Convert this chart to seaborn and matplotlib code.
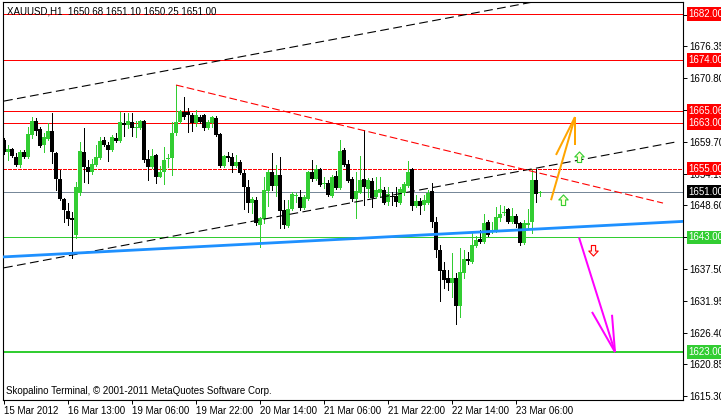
import matplotlib
matplotlib.use('Agg')
import matplotlib.pyplot as plt
import matplotlib.transforms as mtransforms
from matplotlib.path import Path
import numpy as np
import pandas as pd
import seaborn as sns

# ---- data (XAUUSD H1) ----
symbol = 'XAUUSD,H1'
last_ohlc = [1650.68, 1651.10, 1650.25, 1651.00]

opens = [1660.0, 1657.9, 1658.4, 1657.0, 1655.6, 1657.9, 1657.0, 1660.9, 1663.3, 1661.9,
         1659.1, 1660.2, 1661.6, 1657.7, 1653.2, 1649.7, 1647.6, 1646.4, 1643.4, 1650.8,
         1657.9, 1655.3, 1654.4, 1655.6, 1656.9, 1660.0, 1659.1, 1658.3, 1660.3, 1659.8,
         1663.0, 1662.6, 1663.1, 1662.1, 1662.1, 1663.3, 1656.7, 1655.3, 1657.4, 1653.6,
         1654.4, 1656.7, 1656.9, 1661.2, 1663.1, 1664.9, 1664.9, 1664.4, 1663.0, 1664.0,
         1664.4, 1662.1, 1663.0, 1663.8, 1661.1, 1655.5, 1657.2, 1657.0, 1655.5, 1656.2,
         1654.3, 1651.8, 1649.0, 1649.5, 1645.2, 1646.2, 1651.1, 1654.4, 1652.0, 1653.9,
         1647.8, 1645.0, 1648.0, 1650.2, 1650.1, 1648.1, 1649.7, 1654.4, 1653.2, 1654.9,
         1652.3, 1652.5, 1650.2, 1653.7, 1651.6, 1658.3, 1655.8, 1653.2, 1649.7, 1650.8,
         1653.2, 1651.4, 1652.9, 1650.1, 1650.8, 1651.3, 1649.2, 1650.2, 1650.2, 1649.0,
         1650.8, 1652.0, 1654.9, 1648.5, 1649.4, 1648.7, 1649.0, 1651.1, 1645.7, 1640.8,
         1637.3, 1635.9, 1635.1, 1635.9, 1631.0, 1636.8, 1639.2, 1638.7, 1641.5, 1642.7,
         1642.2, 1645.7, 1643.9, 1644.1, 1646.4, 1647.3, 1647.9, 1645.7, 1646.7, 1645.5,
         1642.0, 1645.2, 1645.7, 1653.0, 1650.68]
highs = [1660.4, 1659.1, 1658.6, 1657.7, 1658.3, 1658.3, 1662.3, 1664.0, 1663.8, 1662.3,
         1661.2, 1663.0, 1664.7, 1657.9, 1654.8, 1649.9, 1649.0, 1647.4, 1652.7, 1659.7,
         1662.1, 1656.5, 1656.7, 1659.1, 1660.5, 1660.5, 1659.7, 1660.9, 1661.2, 1664.9,
         1664.7, 1664.7, 1664.7, 1663.3, 1663.5, 1663.5, 1658.3, 1658.4, 1657.6, 1655.5,
         1658.8, 1657.6, 1663.1, 1669.6, 1665.2, 1667.5, 1665.6, 1664.7, 1665.2, 1664.4,
         1664.5, 1663.5, 1664.2, 1664.2, 1661.2, 1657.4, 1657.9, 1657.7, 1657.4, 1656.5,
         1654.8, 1653.0, 1650.1, 1650.1, 1646.6, 1653.6, 1654.8, 1657.7, 1655.6, 1657.0,
         1649.5, 1649.5, 1650.9, 1650.8, 1651.3, 1650.4, 1654.6, 1656.5, 1655.6, 1655.1,
         1653.6, 1653.0, 1653.9, 1654.6, 1660.0, 1658.6, 1656.5, 1653.6, 1654.4, 1657.2,
         1661.8, 1653.4, 1653.4, 1653.6, 1653.6, 1651.8, 1651.8, 1650.9, 1651.8, 1651.8,
         1652.7, 1656.3, 1655.1, 1650.4, 1649.9, 1650.4, 1651.3, 1652.5, 1646.6, 1641.7,
         1638.7, 1637.3, 1640.3, 1636.8, 1641.2, 1640.8, 1640.5, 1643.8, 1643.3, 1644.3,
         1647.1, 1646.0, 1645.7, 1648.3, 1648.7, 1648.5, 1648.1, 1648.1, 1647.1, 1645.7,
         1646.0, 1647.9, 1654.9, 1654.9, 1651.10]
lows = [1657.5, 1656.5, 1657.0, 1655.5, 1655.3, 1656.9, 1656.9, 1660.4, 1660.9, 1658.8,
        1657.9, 1660.0, 1656.0, 1651.3, 1649.5, 1645.7, 1645.2, 1639.4, 1642.9, 1650.4,
        1652.7, 1652.5, 1654.1, 1655.5, 1656.7, 1659.0, 1656.3, 1658.1, 1659.7, 1659.7,
        1660.7, 1662.1, 1660.7, 1660.5, 1661.9, 1656.2, 1653.0, 1655.1, 1652.5, 1653.5,
        1652.3, 1655.3, 1653.9, 1660.9, 1662.9, 1663.6, 1661.4, 1661.6, 1662.5, 1663.0,
        1661.7, 1661.9, 1662.3, 1660.7, 1655.3, 1655.3, 1656.3, 1654.4, 1655.3, 1654.1,
        1648.0, 1647.4, 1647.3, 1645.2, 1641.3, 1645.5, 1648.5, 1651.3, 1650.2, 1644.7,
        1644.7, 1644.8, 1647.8, 1649.2, 1647.8, 1648.0, 1649.5, 1652.9, 1653.0, 1652.0,
        1651.6, 1650.2, 1650.1, 1651.5, 1651.5, 1655.5, 1652.7, 1649.4, 1646.4, 1650.8,
        1648.7, 1650.0, 1648.3, 1649.9, 1650.1, 1648.8, 1648.7, 1648.7, 1648.5, 1648.8,
        1650.4, 1651.8, 1647.8, 1648.3, 1647.1, 1647.8, 1648.8, 1644.8, 1639.6, 1631.9,
        1634.2, 1633.8, 1632.6, 1627.9, 1629.1, 1635.9, 1638.4, 1638.5, 1641.3, 1642.0,
        1642.0, 1643.3, 1643.8, 1643.9, 1645.9, 1646.9, 1645.5, 1645.5, 1644.8, 1641.7,
        1641.9, 1644.5, 1643.8, 1649.2, 1650.25]
closes = [1657.9, 1658.4, 1657.2, 1655.6, 1657.9, 1657.0, 1661.1, 1663.3, 1661.6, 1659.0,
          1660.5, 1661.6, 1657.9, 1653.2, 1649.7, 1647.8, 1646.2, 1646.0, 1651.8, 1658.1,
          1655.3, 1654.4, 1655.8, 1657.0, 1659.8, 1659.1, 1658.3, 1660.5, 1659.8, 1663.1,
          1662.6, 1663.3, 1662.1, 1662.3, 1663.3, 1656.5, 1655.3, 1657.2, 1653.6, 1654.4,
          1656.5, 1656.9, 1661.2, 1663.1, 1665.1, 1664.0, 1664.4, 1663.0, 1664.4, 1663.1,
          1662.1, 1663.1, 1664.0, 1660.9, 1655.5, 1657.2, 1656.9, 1655.5, 1656.2, 1654.3,
          1651.8, 1649.0, 1649.7, 1645.5, 1646.4, 1651.3, 1654.4, 1652.0, 1653.9, 1647.6,
          1645.2, 1648.0, 1650.6, 1650.4, 1648.1, 1650.1, 1654.4, 1653.2, 1654.9, 1652.2,
          1652.5, 1650.4, 1653.6, 1651.6, 1658.1, 1655.6, 1652.9, 1649.7, 1651.1, 1653.0,
          1651.8, 1653.0, 1649.9, 1651.3, 1651.5, 1649.0, 1650.6, 1650.1, 1649.2, 1651.5,
          1652.3, 1654.4, 1648.5, 1649.4, 1648.5, 1649.5, 1650.8, 1645.7, 1640.8, 1637.1,
          1635.6, 1635.1, 1635.9, 1631.0, 1637.0, 1639.2, 1638.9, 1641.7, 1642.6, 1642.2,
          1645.5, 1643.4, 1644.3, 1646.6, 1647.1, 1647.4, 1645.7, 1646.7, 1645.4, 1642.0,
          1645.5, 1645.5, 1653.0, 1650.6, 1651.00]

time_labels = ['15 Mar 2012', '16 Mar 13:00', '19 Mar 06:00', '19 Mar 22:00', '20 Mar 14:00',
               '21 Mar 06:00', '21 Mar 22:00', '22 Mar 14:00', '23 Mar 06:00']
label_bars = [0, 16, 32, 48, 64, 80, 96, 112, 128]
price_ticks = [1615.30, 1620.85, 1626.40, 1631.95, 1637.50, 1643.05, 1648.60, 1654.15,
               1659.70, 1665.25, 1670.80, 1676.35, 1681.90]

red_levels = [1682.00, 1674.00, 1665.06, 1663.00]
dash_level = 1655.00
bid_level = 1651.00
green_levels = [1643.00, 1623.00]

# trend lines: (bar, price) end points
channel_top_bars, channel_top_prices = [0, 140], [1666.8, 1685.1]
channel_low_bars, channel_low_prices = [0, 168.25], [1637.7, 1659.7]
support_bars, support_prices = [-0.25, 169.75], [1639.6, 1645.8]
resist_bars, resist_prices = [43, 164.75], [1669.6, 1649.0]

# drawn arrows (shaft + two barbs), tip last
orange_shaft = ([136.75, 142.75], [1649.5, 1664.0])
orange_barbs = [([138.0, 142.75], [1657.4, 1664.0]), ([142.75, 142.75], [1659.1, 1664.0])]
magenta_shaft = ([143.75, 152.75], [1643.0, 1623.0])
magenta_barbs = [([147.0, 152.75], [1630.0, 1623.0]), ([152.0, 152.75], [1629.5, 1623.0])]
up_signal_bars, up_signal_prices = [139.75, 143.75], [1649.5, 1657.0]
down_signal_bars, down_signal_prices = [147.25], [1640.8]

# ---- style ----
sns.set_style('white')
plt.rcParams['font.family'] = ['Liberation Sans', 'DejaVu Sans']
bull = '#32CD32'
fs = 7
px = 0.72  # one pixel in points at 100 dpi

fig = plt.figure(figsize=(7.21, 4.17), dpi=100)
ax = fig.add_axes([3 / 721, 17 / 417, 680 / 721, 398 / 417])

df = pd.DataFrame({'bar': np.arange(len(opens)), 'open': opens, 'high': highs,
                   'low': lows, 'close': closes})
cols = np.where(df['close'] >= df['open'], bull, 'black')

# horizontal levels (crisp, terminal-like)
hl = dict(zorder=2, antialiased=False)
for lv in red_levels:
    ax.axhline(lv, color='#FF0000', lw=px, **hl)
ax.axhline(dash_level, color='#FF0000', lw=px, ls=(0, (4, 2)), **hl)
ax.axhline(bid_level, color='#778899', lw=px, **hl)
ax.axhline(green_levels[0], color=bull, lw=px, **hl)
ax.axhline(green_levels[1], color=bull, lw=2 * px, **hl)

# candles
ax.vlines(df['bar'], df['low'], df['high'], colors=cols, lw=px, zorder=3,
          antialiased=False)
body = (df['close'] - df['open']).abs().clip(lower=0.15)
ax.bar(df['bar'], body, bottom=np.minimum(df['open'], df['close']), width=0.8,
       color=cols, lw=0, zorder=4, antialiased=False)

# trend lines
sns.lineplot(x=channel_top_bars, y=channel_top_prices, color='black', lw=1.1 * px,
             ls=(0, (8, 4)), ax=ax, zorder=5)
sns.lineplot(x=channel_low_bars, y=channel_low_prices, color='black', lw=1.1 * px,
             ls=(0, (8, 4)), ax=ax, zorder=5)
sns.lineplot(x=resist_bars, y=resist_prices, color='#FF0000', lw=1.1 * px,
             ls=(0, (7, 3)), ax=ax, zorder=5)
sns.lineplot(x=support_bars, y=support_prices, color='#1E90FF', lw=2.8 * px, ax=ax, zorder=5)

# drawn arrows
for (xs, ys) in [orange_shaft] + orange_barbs:
    ax.plot(xs, ys, color='#FFA500', lw=2 * px, zorder=6, solid_capstyle='butt')
for (xs, ys) in [magenta_shaft] + magenta_barbs:
    ax.plot(xs, ys, color='#FF00FF', lw=2 * px, zorder=6, solid_capstyle='butt')

arrow_verts = [(0, 1), (0.85, 0.1), (0.38, 0.1), (0.38, -0.9), (-0.38, -0.9),
               (-0.38, 0.1), (-0.85, 0.1), (0, 1)]
codes = [Path.MOVETO] + [Path.LINETO] * 6 + [Path.CLOSEPOLY]
up_marker = Path(arrow_verts, codes)
down_marker = Path([(x, -y) for x, y in arrow_verts], codes)
ax.plot(up_signal_bars, up_signal_prices, ls='none', marker=up_marker, ms=8,
        mfc='#FFFFD8', mec=bull, mew=0.8, zorder=7)
ax.plot(down_signal_bars, down_signal_prices, ls='none', marker=down_marker, ms=8,
        mfc='#FFF0F0', mec='#FF0000', mew=0.8, zorder=7)

# axes
ax.set_xlim(-0.25, 169.75)
ax.set_ylim(1614.63, 1684.09)
for s in ax.spines.values():
    s.set_color('black')
    s.set_linewidth(0.8)
ax.yaxis.tick_right()
ax.set_yticks(price_ticks)
ax.set_yticklabels([f'{p:.2f}' for p in price_ticks])
ax.set_xticks(label_bars)
ax.set_xticklabels(time_labels)
for lab in ax.get_xticklabels():
    lab.set_ha('left')
ax.tick_params(axis='both', direction='out', length=3, width=0.7, colors='black',
               labelsize=fs, pad=1.5)
ax.tick_params(axis='x', bottom=True)
ax.tick_params(axis='y', right=True, left=False)
ax.set_xlabel('')
ax.set_ylabel('')

# price tags on the right scale
trans = mtransforms.blended_transform_factory(ax.transAxes, ax.transData)
tags = [(lv, '#FF0000') for lv in red_levels] + [(dash_level, '#FF0000'),
                                                 (bid_level, 'black')] + \
       [(lv, bull) for lv in green_levels]
for lv, c in tags:
    ax.text(1.008, lv, f'{lv:.2f}', transform=trans, ha='left', va='center',
            fontsize=fs, color='white', clip_on=False, zorder=10,
            bbox=dict(boxstyle='square,pad=0.18', fc=c, ec='none'))

ax.text(0.006, 0.988, f'{symbol}  ' + ' '.join(f'{v:.2f}' for v in last_ohlc),
        transform=ax.transAxes, ha='left', va='top', fontsize=fs, color='black')
ax.text(0.005, 0.022, 'Skopalino Terminal, \u00a9 2001-2011 MetaQuotes Software Corp.',
        transform=ax.transAxes, ha='left', va='center', fontsize=fs, color='black')

fig.savefig('out.png', dpi=100)
